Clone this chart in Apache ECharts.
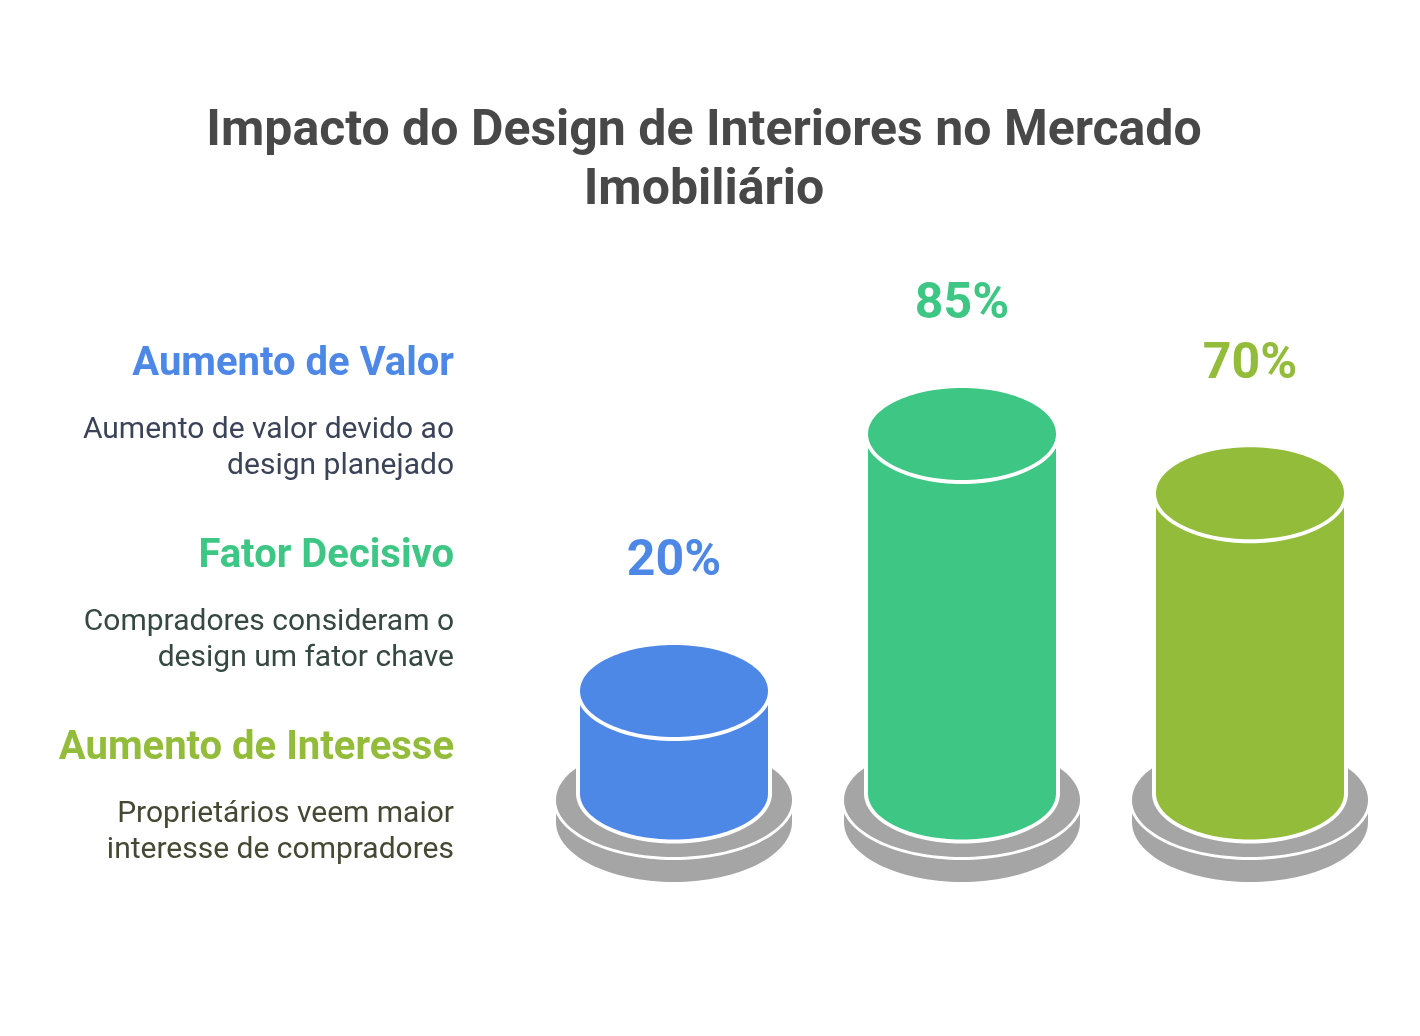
<!DOCTYPE html>
<html>
<head>
<meta charset="utf-8">
<style>html,body{margin:0;padding:0;background:#fff}#c{width:1420px;height:1036px}</style>
<script src="https://cdn.jsdelivr.net/npm/echarts@6/dist/echarts.min.js"></script>
</head>
<body>
<div id="c"></div>
<script>
var titleText = 'Impacto do Design de Interiores no Mercado\nImobiliário';
var categories = ['Aumento de Valor', 'Fator Decisivo', 'Aumento de Interesse'];
var values = [20, 85, 70];
var descriptions = [
  'Aumento de valor devido ao\ndesign planejado',
  'Compradores consideram o\ndesign um fator chave',
  'Proprietários veem maior\ninteresse de compradores'
];
var colors = ['#4E88E7', '#3EC684', '#93BC3A'];
var descColors = ['#3B4358', '#364842', '#454832'];
var gray = '#A5A5A5';

function renderItem(params, api) {
  var i = params.dataIndex;
  var v = api.value(1);
  var top = api.coord([i, v]);
  var zero = api.coord([i, 0]);
  var cx = top[0], ty = top[1];
  var by = zero[1] + 23.5;
  var rx = 94, ry = 46, gap = 4;
  var baseRx = 118, baseY = zero[1] + 30, baseRy = 57, lowY = zero[1] + 52, lowRy = 60;
  var c = colors[i];
  function ell(x, y, a, b, fill) {
    return {type: 'ellipse', shape: {cx: x, cy: y, rx: a, ry: b}, style: {fill: fill}};
  }
  function rect(x, y, w, h, fill) {
    return {type: 'rect', shape: {x: x, y: y, width: w, height: h}, style: {fill: fill}};
  }
  return {
    type: 'group',
    children: [
      ell(cx, lowY, baseRx, lowRy, gray),
      rect(cx - baseRx, baseY, baseRx * 2, lowY - baseY, gray),
      ell(cx, baseY, baseRx + 3, baseRy + 3, '#fff'),
      ell(cx, baseY, baseRx, baseRy, gray),
      ell(cx, by, rx + gap, ry + gap, '#fff'),
      rect(cx - rx - gap, ty, (rx + gap) * 2, by - ty, '#fff'),
      ell(cx, by, rx, ry, c),
      rect(cx - rx, ty, rx * 2, by - ty, c),
      ell(cx, ty, rx + gap, ry + gap, '#fff'),
      ell(cx, ty, rx, ry, c),
      {
        type: 'text',
        style: {
          x: cx, y: ty - 128, text: v + '%', fill: c,
          font: '700 50px Roboto', align: 'center', verticalAlign: 'middle'
        }
      }
    ]
  };
}

var graphics = [];
categories.forEach(function (name, i) {
  var step = 192 * i;
  graphics.push({
    type: 'text', x: 454, y: 365 + step,
    style: {text: name, fill: colors[i], font: '700 40px Roboto', align: 'right', verticalAlign: 'middle'}
  });
  graphics.push({
    type: 'text', x: 454, y: 448 + step,
    style: {text: descriptions[i], fill: descColors[i], font: '400 30px Roboto', lineHeight: 36, align: 'right', verticalAlign: 'middle'}
  });
});

var chart = echarts.init(document.getElementById('c'), null, {renderer: 'canvas'});
chart.setOption({
  animation: false,
  backgroundColor: '#fff',
  title: {
    text: titleText,
    left: 699, top: 98, textAlign: 'center',
    textStyle: {fontFamily: 'Roboto', fontWeight: 700, fontSize: 50, lineHeight: 59, color: '#484848'}
  },
  grid: {left: 530, width: 864, top: 374.6, height: 395.4},
  xAxis: {type: 'category', data: categories, show: false},
  yAxis: {type: 'value', min: 0, max: 100, show: false},
  graphic: graphics,
  series: [{
    type: 'custom',
    clip: false,
    data: values.map(function (v, i) { return [i, v]; }),
    encode: {x: 0, y: 1},
    renderItem: renderItem
  }]
});
</script>
</body>
</html>
